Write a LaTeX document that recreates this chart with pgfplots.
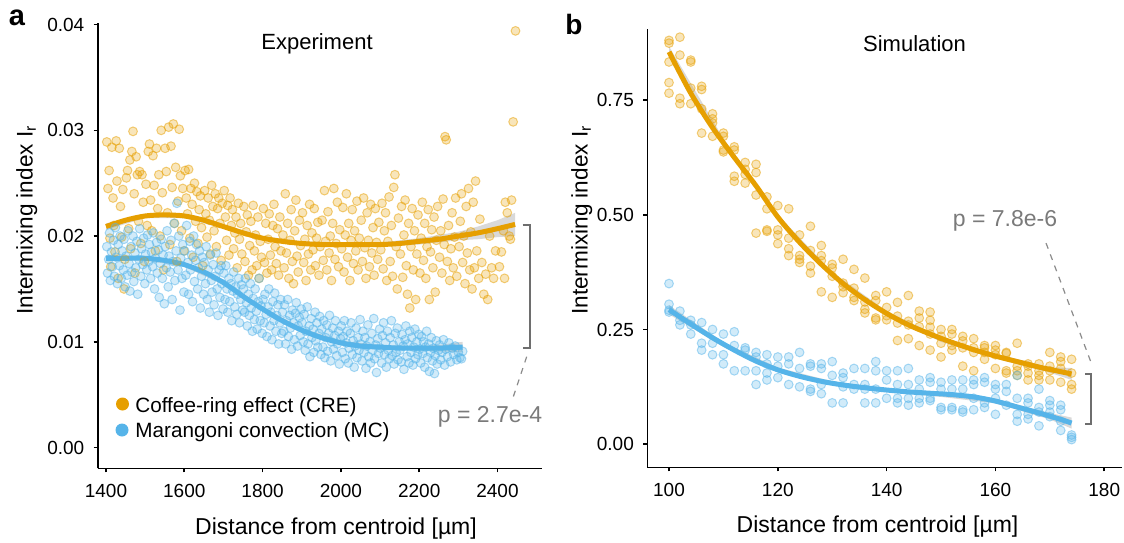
\documentclass[border=0pt]{standalone}
\usepackage{pgfplots}
\pgfplotsset{compat=1.18}
\usepackage{fontspec}
\setmainfont{Liberation Sans}
\definecolor{cre}{HTML}{E69F00}
\definecolor{mc}{HTML}{56B4E9}
\definecolor{pgray}{HTML}{7A7A7A}
\definecolor{bgray}{HTML}{6E6E6E}
\pgfplotsset{
  panel/.style={scale only axis, axis lines=left, scaled ticks=false,
    axis line style={-, line width=0.8pt, black},
    tick align=outside, major tick length=2pt,
    tick style={line width=0.8pt, black},
    tick label style={font=\fontsize{9.5}{11}\selectfont},
    xticklabel style={yshift=-2.5pt}, yticklabel style={xshift=-1.2pt}},
  ptO/.style={only marks, mark=*, mark size=2.2pt,
    mark options={draw=cre, fill=cre, draw opacity=0.5, fill opacity=0.27, line width=0.5pt}},
  ptB/.style={only marks, mark=*, mark size=2.2pt,
    mark options={draw=mc, fill=mc, draw opacity=0.5, fill opacity=0.27, line width=0.5pt}},
  band/.style={draw=none, fill=gray!55, fill opacity=0.55},
  fitO/.style={cre, line width=2.5pt, smooth, no marks},
  fitB/.style={mc, line width=2.5pt, smooth, no marks},
}
\begin{document}
\begin{tikzpicture}
\path[use as bounding box] (0,0) rectangle (562pt,271pt);
% ---------------- panel a ----------------
\begin{axis}[panel, at={(48.85pt,36.8pt)}, anchor=south west,
  width=222.15pt, height=222.45pt,
  xmin=1378.8, xmax=2513.7, ymin=-0.00197, ymax=0.0401,
  xtick={1400,1600,1800,2000,2200,2400},
  xticklabels={1400,1600,1800,2000,2200,2400},
  ytick={0,0.01,0.02,0.03,0.04},
  yticklabels={0.00,0.01,0.02,0.03,0.04}]
\addplot[ptO] coordinates {
(1402,0.0289)(1405,0.0245)(1408,0.0262)(1410,0.0198)(1412,0.0171)(1415,0.0284)(1418,0.0236)(1420,0.0210)(1423,0.0185)(1426,0.0290)(1428,0.0252)(1431,0.0160)(1434,0.0283)(1437,0.0228)(1440,0.0199)(1443,0.0244)(1446,0.0150)(1448,0.0178)
(1452,0.0255)(1455,0.0262)(1458,0.0207)(1461,0.0272)(1463,0.0188)(1466,0.0280)(1469,0.0299)(1472,0.0240)(1474,0.0165)(1477,0.0275)(1480,0.0258)(1483,0.0214)(1486,0.0261)(1489,0.0193)(1492,0.0258)(1495,0.0232)(1498,0.0176)
(1502,0.0249)(1505,0.0210)(1508,0.0280)(1511,0.0287)(1514,0.0234)(1517,0.0205)(1520,0.0276)(1523,0.0248)(1526,0.0186)(1529,0.0283)(1532,0.0226)(1535,0.0258)(1538,0.0200)(1541,0.0300)(1544,0.0241)(1547,0.0168)
(1551,0.0283)(1554,0.0261)(1557,0.0222)(1560,0.0303)(1563,0.0192)(1566,0.0285)(1569,0.0246)(1572,0.0306)(1575,0.0212)(1578,0.0265)(1581,0.0176)(1584,0.0233)(1587,0.0301)(1590,0.0257)(1593,0.0205)(1596,0.0245)(1599,0.0186)
(1602,0.0262)(1605,0.0236)(1608,0.0221)(1611,0.0263)(1614,0.0198)(1617,0.0245)(1620,0.0230)(1623,0.0180)(1626,0.0250)(1629,0.0214)(1632,0.0242)(1635,0.0193)(1638,0.0225)(1641,0.0238)(1644,0.0208)(1647,0.0172)
(1652,0.0243)(1655,0.0221)(1658,0.0199)(1661,0.0236)(1664,0.0215)(1667,0.0183)(1670,0.0248)(1673,0.0228)(1676,0.0205)(1679,0.0240)(1682,0.0190)(1685,0.0226)(1688,0.0236)(1691,0.0212)(1694,0.0177)(1697,0.0231)
(1702,0.0243)(1705,0.0218)(1708,0.0196)(1711,0.0229)(1714,0.0182)(1717,0.0236)(1720,0.0210)(1723,0.0225)(1726,0.0188)(1729,0.0203)(1732,0.0218)(1735,0.0170)(1738,0.0231)(1741,0.0197)(1744,0.0212)(1747,0.0183)
(1752,0.0228)(1755,0.0176)(1758,0.0204)(1761,0.0220)(1764,0.0163)(1767,0.0191)(1770,0.0214)(1773,0.0168)(1776,0.0229)(1779,0.0186)(1782,0.0201)(1785,0.0172)(1788,0.0218)(1791,0.0160)(1794,0.0195)(1797,0.0180)
(1802,0.0226)(1805,0.0175)(1808,0.0212)(1811,0.0165)(1814,0.0197)(1817,0.0221)(1820,0.0182)(1823,0.0168)(1826,0.0210)(1829,0.0230)(1832,0.0190)(1835,0.0174)(1838,0.0207)(1841,0.0163)(1844,0.0218)(1847,0.0186)
(1852,0.0201)(1855,0.0170)(1858,0.0240)(1861,0.0184)(1864,0.0212)(1867,0.0160)(1870,0.0196)(1873,0.0225)(1876,0.0176)(1879,0.0155)(1882,0.0205)(1885,0.0234)(1888,0.0181)(1891,0.0166)(1894,0.0215)(1897,0.0191)
(1902,0.0222)(1905,0.0175)(1908,0.0197)(1911,0.0158)(1914,0.0210)(1917,0.0183)(1920,0.0230)(1923,0.0168)(1926,0.0203)(1929,0.0187)(1932,0.0226)(1935,0.0172)(1938,0.0198)(1941,0.0213)(1944,0.0163)(1947,0.0190)
(1952,0.0215)(1955,0.0177)(1958,0.0243)(1961,0.0195)(1964,0.0168)(1967,0.0223)(1970,0.0184)(1973,0.0200)(1976,0.0158)(1979,0.0212)(1982,0.0245)(1985,0.0178)(1988,0.0193)(1991,0.0232)(1994,0.0171)(1997,0.0206)
(2002,0.0188)(2005,0.0227)(2008,0.0166)(2011,0.0201)(2014,0.0240)(2017,0.0180)(2020,0.0212)(2023,0.0158)(2026,0.0196)(2029,0.0225)(2032,0.0174)(2035,0.0205)(2038,0.0186)(2041,0.0233)(2044,0.0168)(2047,0.0198)
(2052,0.0215)(2055,0.0176)(2058,0.0236)(2061,0.0189)(2064,0.0160)(2067,0.0222)(2070,0.0196)(2073,0.0171)(2076,0.0230)(2079,0.0184)(2082,0.0208)(2085,0.0163)(2088,0.0226)(2091,0.0194)(2094,0.0178)(2097,0.0213)
(2102,0.0187)(2105,0.0231)(2108,0.0169)(2111,0.0205)(2114,0.0222)(2117,0.0158)(2120,0.0195)(2123,0.0237)(2126,0.0176)(2129,0.0210)(2132,0.0162)(2135,0.0246)(2138,0.0258)(2141,0.0190)(2144,0.0150)(2147,0.0217)
(2152,0.0183)(2155,0.0228)(2158,0.0161)(2161,0.0201)(2164,0.0234)(2167,0.0172)(2170,0.0145)(2173,0.0212)(2176,0.0132)(2179,0.0190)(2182,0.0226)(2185,0.0168)(2188,0.0205)(2191,0.0140)(2194,0.0183)(2197,0.0220)
(2202,0.0165)(2205,0.0198)(2208,0.0232)(2211,0.0177)(2214,0.0212)(2217,0.0160)(2220,0.0190)(2223,0.0225)(2226,0.0140)(2229,0.0185)(2232,0.0206)(2235,0.0170)(2238,0.0218)(2241,0.0147)(2244,0.0196)(2247,0.0228)
(2252,0.0180)(2255,0.0205)(2258,0.0165)(2261,0.0235)(2264,0.0192)(2266,0.0294)(2269,0.0291)(2272,0.0176)(2275,0.0210)(2278,0.0158)(2281,0.0188)(2284,0.0222)(2287,0.0170)(2290,0.0199)(2293,0.0236)(2296,0.0162)
(2302,0.0190)(2305,0.0214)(2308,0.0240)(2311,0.0175)(2314,0.0200)(2317,0.0155)(2320,0.0228)(2323,0.0184)(2326,0.0245)(2329,0.0168)(2332,0.0204)(2335,0.0150)(2338,0.0232)(2341,0.0170)(2344,0.0252)(2347,0.0186)
(2352,0.0160)(2355,0.0216)(2360,0.0175)(2365,0.0145)(2370,0.0164)(2375,0.0140)(2380,0.0200)(2385,0.0170)(2390,0.0160)(2395,0.0186)
(2405,0.0171)(2410,0.0185)(2415,0.0205)(2420,0.0232)(2425,0.0222)(2430,0.0200)(2436,0.0234)(2440,0.0308)(2446,0.0394)(2433,0.0197)(2418,0.0160)
};
\addplot[ptB] coordinates {
(1402,0.0190)(1404,0.0165)(1407,0.0178)(1409,0.0203)(1411,0.0158)(1414,0.0185)(1416,0.0171)(1419,0.0196)(1421,0.0162)(1424,0.0208)(1426,0.0180)(1429,0.0155)(1431,0.0192)(1434,0.0172)(1436,0.0200)(1439,0.0160)(1441,0.0186)(1444,0.0168)(1446,0.0197)(1449,0.0152)
(1451,0.0181)(1454,0.0163)(1456,0.0205)(1459,0.0174)(1461,0.0148)(1464,0.0190)(1466,0.0166)(1469,0.0200)(1471,0.0157)(1474,0.0184)(1476,0.0170)(1479,0.0195)(1481,0.0145)(1484,0.0178)(1486,0.0207)(1489,0.0162)(1491,0.0188)(1494,0.0173)(1496,0.0198)(1499,0.0155)
(1501,0.0183)(1504,0.0168)(1506,0.0201)(1509,0.0176)(1511,0.0192)(1514,0.0160)(1516,0.0185)(1519,0.0171)(1521,0.0203)(1524,0.0150)(1526,0.0179)(1529,0.0194)(1531,0.0165)(1534,0.0187)(1536,0.0142)(1539,0.0174)(1541,0.0197)(1544,0.0160)(1546,0.0182)(1549,0.0136)
(1551,0.0190)(1554,0.0170)(1556,0.0205)(1559,0.0152)(1561,0.0181)(1564,0.0166)(1566,0.0196)(1569,0.0140)(1571,0.0176)(1574,0.0212)(1576,0.0158)(1579,0.0186)(1581,0.0231)(1584,0.0168)(1586,0.0200)(1589,0.0130)(1591,0.0179)(1594,0.0160)(1596,0.0192)(1599,0.0147)
(1601,0.0186)(1604,0.0163)(1606,0.0210)(1609,0.0175)(1611,0.0145)(1614,0.0195)(1616,0.0168)(1619,0.0182)(1621,0.0138)(1624,0.0200)(1626,0.0157)(1629,0.0177)(1631,0.0192)(1634,0.0150)(1636,0.0170)(1639,0.0186)(1641,0.0132)(1644,0.0162)(1646,0.0180)(1649,0.0145)
(1651,0.0175)(1654,0.0155)(1656,0.0190)(1659,0.0140)(1661,0.0168)(1664,0.0128)(1666,0.0182)(1669,0.0158)(1671,0.0147)(1674,0.0173)(1676,0.0135)(1679,0.0162)(1681,0.0184)(1684,0.0150)(1686,0.0125)(1689,0.0168)(1691,0.0142)(1694,0.0172)(1696,0.0155)(1699,0.0131)
(1701,0.0165)(1704,0.0140)(1706,0.0172)(1709,0.0150)(1711,0.0128)(1714,0.0160)(1716,0.0138)(1719,0.0155)(1721,0.0120)(1724,0.0148)(1726,0.0166)(1729,0.0133)(1731,0.0152)(1734,0.0126)(1736,0.0145)(1739,0.0160)(1741,0.0118)(1744,0.0140)(1746,0.0154)(1749,0.0130)
(1751,0.0150)(1754,0.0128)(1756,0.0160)(1759,0.0137)(1761,0.0115)(1764,0.0145)(1766,0.0125)(1769,0.0155)(1771,0.0132)(1774,0.0110)(1776,0.0141)(1779,0.0121)(1781,0.0150)(1784,0.0129)(1786,0.0112)(1789,0.0138)(1791,0.0160)(1794,0.0120)(1796,0.0134)(1799,0.0108)
(1801,0.0140)(1804,0.0118)(1806,0.0145)(1809,0.0126)(1811,0.0105)(1814,0.0133)(1816,0.0150)(1819,0.0115)(1821,0.0128)(1824,0.0102)(1826,0.0138)(1829,0.0120)(1831,0.0146)(1834,0.0110)(1836,0.0125)(1839,0.0135)(1841,0.0098)(1844,0.0118)(1846,0.0140)(1849,0.0108)
(1851,0.0128)(1854,0.0110)(1856,0.0135)(1859,0.0098)(1861,0.0120)(1864,0.0140)(1866,0.0105)(1869,0.0125)(1871,0.0113)(1874,0.0093)(1876,0.0130)(1879,0.0118)(1881,0.0102)(1884,0.0127)(1886,0.0137)(1889,0.0096)(1891,0.0115)(1894,0.0123)(1896,0.0106)(1899,0.0131)
(1901,0.0118)(1904,0.0100)(1906,0.0126)(1909,0.0092)(1911,0.0110)(1914,0.0133)(1916,0.0098)(1919,0.0115)(1921,0.0086)(1924,0.0122)(1926,0.0104)(1929,0.0112)(1931,0.0090)(1934,0.0128)(1936,0.0101)(1939,0.0118)(1941,0.0095)(1944,0.0108)(1946,0.0124)(1949,0.0088)
(1951,0.0112)(1954,0.0095)(1956,0.0120)(1959,0.0085)(1961,0.0104)(1964,0.0116)(1966,0.0091)(1969,0.0108)(1971,0.0125)(1974,0.0082)(1976,0.0100)(1979,0.0113)(1981,0.0093)(1984,0.0106)(1986,0.0120)(1989,0.0087)(1991,0.0098)(1994,0.0110)(1996,0.0079)(1999,0.0103)
(2001,0.0115)(2004,0.0090)(2006,0.0105)(2009,0.0120)(2011,0.0084)(2014,0.0099)(2016,0.0110)(2019,0.0080)(2021,0.0094)(2024,0.0108)(2026,0.0118)(2029,0.0088)(2031,0.0101)(2034,0.0076)(2036,0.0096)(2039,0.0113)(2041,0.0085)(2044,0.0104)(2046,0.0092)(2049,0.0121)
(2051,0.0098)(2054,0.0082)(2056,0.0110)(2059,0.0090)(2061,0.0104)(2064,0.0075)(2066,0.0096)(2069,0.0116)(2071,0.0086)(2074,0.0100)(2076,0.0080)(2079,0.0108)(2081,0.0092)(2084,0.0122)(2086,0.0084)(2089,0.0097)(2091,0.0071)(2094,0.0103)(2096,0.0089)(2099,0.0112)
(2101,0.0094)(2104,0.0080)(2106,0.0106)(2109,0.0118)(2111,0.0088)(2114,0.0099)(2116,0.0076)(2119,0.0110)(2121,0.0092)(2124,0.0084)(2126,0.0104)(2129,0.0120)(2131,0.0087)(2134,0.0097)(2136,0.0079)(2139,0.0108)(2141,0.0090)(2144,0.0113)(2146,0.0083)(2149,0.0100)
(2151,0.0092)(2154,0.0081)(2156,0.0107)(2159,0.0096)(2161,0.0074)(2164,0.0102)(2166,0.0115)(2169,0.0086)(2171,0.0098)(2174,0.0080)(2176,0.0110)(2179,0.0090)(2181,0.0104)(2184,0.0078)(2186,0.0095)(2189,0.0112)(2191,0.0084)(2194,0.0100)(2196,0.0088)(2199,0.0107)
(2201,0.0093)(2204,0.0080)(2206,0.0105)(2209,0.0089)(2211,0.0100)(2214,0.0076)(2216,0.0095)(2219,0.0110)(2221,0.0085)(2224,0.0098)(2226,0.0072)(2229,0.0090)(2231,0.0104)(2234,0.0082)(2236,0.0094)(2239,0.0070)(2241,0.0087)(2244,0.0101)(2246,0.0079)(2249,0.0092)
(2252,0.0097)(2255,0.0083)(2258,0.0090)(2262,0.0102)(2265,0.0078)(2268,0.0093)(2272,0.0086)(2276,0.0099)(2280,0.0081)(2284,0.0094)(2288,0.0088)(2292,0.0096)(2296,0.0083)(2300,0.0090)(2304,0.0085)(2308,0.0084)(2311,0.0091)
};
% confidence bands
\addplot[band] coordinates {(1400,0.0212)(1500,0.0221)(1600,0.0221)(1700,0.0211)(1800,0.0200)(1900,0.0195)(2000,0.0194)(2100,0.0194)(2200,0.0198)(2300,0.0204)(2350,0.0209)(2400,0.0215)(2445,0.0222)
 (2445,0.0200)(2400,0.0199)(2350,0.0197)(2300,0.0196)(2200,0.0192)(2100,0.0190)(2000,0.0190)(1900,0.0191)(1800,0.0196)(1700,0.0207)(1600,0.0217)(1500,0.0217)(1400,0.0206)} -- cycle;
\addplot[band] coordinates {(1400,0.0182)(1500,0.0181)(1600,0.0175)(1700,0.0158)(1800,0.0133)(1900,0.0113)(2000,0.0101)(2100,0.0097)(2200,0.0096)(2250,0.0097)(2311,0.0100)
 (2311,0.0090)(2250,0.0091)(2200,0.0092)(2100,0.0093)(2000,0.0097)(1900,0.0109)(1800,0.0129)(1700,0.0154)(1600,0.0171)(1500,0.0177)(1400,0.0176)} -- cycle;
\addplot[fitO] coordinates {(1400,0.0209)(1450,0.0215)(1500,0.0219)(1550,0.0220)(1600,0.0219)(1650,0.0215)(1700,0.0209)(1750,0.0203)(1800,0.0198)(1850,0.0195)(1900,0.0193)(1950,0.0192)(2000,0.0192)(2100,0.0192)(2150,0.0193)(2200,0.0195)(2250,0.0197)(2300,0.0200)(2350,0.0203)(2400,0.0207)(2445,0.0211)};
\addplot[fitB] coordinates {(1400,0.0179)(1450,0.0179)(1500,0.0179)(1550,0.0177)(1600,0.0173)(1650,0.0166)(1700,0.0156)(1750,0.0143)(1800,0.0131)(1850,0.0120)(1900,0.0111)(1950,0.0104)(2000,0.0099)(2050,0.0096)(2100,0.0095)(2150,0.0094)(2200,0.0094)(2250,0.0094)(2311,0.0095)};
\end{axis}
% ---------------- panel b ----------------
\begin{axis}[panel, at={(323.65pt,37.35pt)}, anchor=south west,
  width=237.35pt, height=218.95pt,
  xmin=96.01, xmax=183.27, ymin=-0.0504, ymax=0.904,
  xtick={100,120,140,160,180}, xticklabels={100,120,140,160,180},
  ytick={0,0.25,0.5,0.75}, yticklabels={0.00,0.25,0.50,0.75}]
\addplot[ptO] coordinates {
(100,0.874)(100,0.880)(100,0.833)(100,0.788)(100,0.765)
(102,0.887)(102,0.848)(102,0.754)(102,0.742)
(104,0.837)(104,0.833)(104,0.776)(104,0.742)
(106,0.780)(106,0.773)(106,0.731)(106,0.678)
(108,0.720)(108,0.709)(108,0.700)(108,0.671)
(110,0.678)(110,0.671)(110,0.641)(110,0.637)
(112,0.648)(112,0.641)(112,0.584)(112,0.573)
(114,0.614)(114,0.599)(114,0.588)(114,0.569)
(116,0.610)(116,0.592)(116,0.543)(116,0.460)
(118,0.539)(118,0.513)(118,0.467)(118,0.464)
(120,0.520)(120,0.467)(120,0.456)(120,0.437)
(122,0.513)(122,0.449)(122,0.426)(122,0.411)
(124,0.456)(124,0.411)(124,0.403)(124,0.396)
(126,0.475)(126,0.422)(126,0.388)(126,0.373)
(128,0.433)(128,0.411)(128,0.400)(128,0.332)
(130,0.392)(130,0.384)(130,0.366)(130,0.320)
(132,0.403)(132,0.351)(132,0.343)(132,0.330)
(134,0.381)(134,0.340)(134,0.320)(134,0.313)
(136,0.362)(136,0.310)(136,0.294)(136,0.286)
(138,0.324)(138,0.313)(138,0.275)(138,0.271)
(140,0.332)(140,0.298)(140,0.280)(140,0.271)
(142,0.309)(142,0.279)(142,0.264)(142,0.226)
(144,0.324)(144,0.268)(144,0.260)(144,0.230)
(146,0.290)(146,0.275)(146,0.256)(146,0.215)
(148,0.288)(148,0.270)(148,0.255)(148,0.240)(148,0.205)
(150,0.250)(150,0.235)(150,0.220)(150,0.190)
(152,0.250)(152,0.240)(152,0.215)(152,0.205)
(154,0.235)(154,0.225)(154,0.210)(154,0.170)
(156,0.230)(156,0.210)(156,0.200)(156,0.160)
(158,0.215)(158,0.210)(158,0.200)(158,0.185)
(160,0.215)(160,0.205)(160,0.195)(160,0.165)
(162,0.200)(162,0.198)(162,0.160)(162,0.155)
(164,0.220)(164,0.170)(164,0.160)(164,0.150)
(166,0.175)(166,0.170)(166,0.155)(166,0.140)
(168,0.175)(168,0.160)(168,0.150)(168,0.140)
(170,0.200)(170,0.170)(170,0.160)(170,0.140)
(172,0.190)(172,0.180)(172,0.165)(172,0.135)
(174,0.185)(174,0.155)(174,0.130)(174,0.120)
};
\addplot[ptB] coordinates {
(100,0.350)(100,0.305)(100,0.292)(100,0.288)
(102,0.290)(102,0.270)(102,0.260)
(104,0.270)(104,0.260)(104,0.240)
(106,0.265)(106,0.220)(106,0.205)
(108,0.250)(108,0.220)(108,0.195)
(110,0.240)(110,0.195)(110,0.175)
(112,0.245)(112,0.215)(112,0.160)
(114,0.210)(114,0.205)(114,0.160)
(116,0.200)(116,0.190)(116,0.160)(116,0.130)
(118,0.195)(118,0.175)(118,0.155)(118,0.140)
(120,0.190)(120,0.170)(120,0.145)
(122,0.190)(122,0.175)(122,0.130)
(124,0.200)(124,0.165)(124,0.125)
(126,0.175)(126,0.170)(126,0.120)(126,0.115)
(128,0.175)(128,0.165)(128,0.130)(128,0.110)
(130,0.180)(130,0.150)(130,0.090)
(132,0.155)(132,0.145)(132,0.125)(132,0.090)
(134,0.165)(134,0.130)(134,0.120)
(136,0.165)(136,0.130)(136,0.120)(136,0.090)
(138,0.180)(138,0.160)(138,0.120)(138,0.090)
(140,0.160)(140,0.140)(140,0.100)
(142,0.160)(142,0.130)(142,0.100)(142,0.090)
(144,0.165)(144,0.130)(144,0.100)(144,0.085)
(146,0.140)(146,0.120)(146,0.100)(146,0.090)
(148,0.145)(148,0.135)(148,0.100)(148,0.095)
(150,0.135)(150,0.120)(150,0.080)(150,0.075)
(152,0.140)(152,0.120)(152,0.080)(152,0.075)
(154,0.140)(154,0.120)(154,0.075)(154,0.070)
(156,0.140)(156,0.130)(156,0.100)(156,0.075)
(158,0.145)(158,0.135)(158,0.090)(158,0.080)
(160,0.130)(160,0.120)(160,0.100)(160,0.065)
(162,0.130)(162,0.115)(162,0.085)
(164,0.150)(164,0.100)(164,0.065)(164,0.050)
(166,0.100)(166,0.090)(166,0.065)(166,0.055)
(168,0.120)(168,0.080)(168,0.070)(168,0.040)
(170,0.095)(170,0.085)(170,0.070)(170,0.060)
(172,0.085)(172,0.075)(172,0.050)(172,0.030)
(174,0.020)(174,0.015)(174,0.010)
};
\addplot[band] coordinates {(100,0.867)(110,0.666)(120,0.500)(130,0.375)(140,0.290)(150,0.233)(160,0.197)(170,0.168)(174,0.166)
 (174,0.140)(170,0.156)(160,0.187)(150,0.223)(140,0.280)(130,0.365)(120,0.490)(110,0.656)(100,0.843)} -- cycle;
\addplot[band] coordinates {(100,0.303)(110,0.222)(120,0.167)(130,0.137)(140,0.122)(150,0.113)(160,0.099)(170,0.068)(174,0.058)
 (174,0.034)(170,0.054)(160,0.089)(150,0.103)(140,0.114)(130,0.129)(120,0.157)(110,0.212)(100,0.283)} -- cycle;
\addplot[fitO] coordinates {(100,0.855)(104,0.765)(108,0.690)(112,0.625)(116,0.563)(120,0.495)(124,0.440)(128,0.392)(132,0.350)(136,0.315)(140,0.285)(144,0.260)(148,0.240)(152,0.222)(156,0.206)(160,0.192)(164,0.180)(168,0.168)(172,0.158)(174,0.153)};
\addplot[fitB] coordinates {(100,0.293)(104,0.262)(108,0.232)(112,0.205)(116,0.181)(120,0.162)(124,0.148)(128,0.137)(132,0.129)(136,0.123)(140,0.118)(144,0.114)(148,0.111)(152,0.108)(156,0.103)(160,0.094)(164,0.081)(168,0.068)(172,0.054)(174,0.046)};
\end{axis}
% ---------------- annotations (pixel coordinates, origin top-left) ----------------
\begin{scope}[x=0.5pt, y=-0.5pt, yshift=271pt]
\node[font=\fontsize{14.5}{16}\selectfont\bfseries, anchor=base west, inner sep=0] at (8.5,26) {a};
\node[font=\fontsize{14}{16}\selectfont\bfseries, anchor=base west, inner sep=0] at (565,34.6) {b};
\node[font=\fontsize{11}{13}\selectfont] at (317,44) {Experiment};
\node[font=\fontsize{11}{13}\selectfont] at (914.5,44) {Simulation};
\node[font=\fontsize{11.3}{13}\selectfont, rotate=90] at (26.7,220) {Intermixing index I\textsubscript{r}};
\node[font=\fontsize{11.3}{13}\selectfont, rotate=90] at (581.7,220) {Intermixing index I\textsubscript{r}};
\node[font=\fontsize{11.5}{13}\selectfont] at (336,529) {Distance from centroid [µm]};
\node[font=\fontsize{11.5}{13}\selectfont] at (877.5,527) {Distance from centroid [µm]};
% legend
\fill[cre] (122.5,404) circle (6.5);
\fill[mc] (122,430) circle (6.5);
\node[font=\fontsize{10.35}{12}\selectfont, anchor=west, inner sep=0] at (135,407) {Coffee-ring effect (CRE)};
\node[font=\fontsize{10.35}{12}\selectfont, anchor=west, inner sep=0] at (135,432) {Marangoni convection (MC)};
% brackets and p-values
\draw[bgray, line width=1pt] (522.7,225) -- (530,225) -- (530,347.7) -- (522.7,347.7);
\draw[bgray!80, line width=0.6pt, dash pattern=on 3pt off 3pt] (526.7,356.7) -- (513.3,396.7);
\node[pgray, font=\fontsize{11.5}{13}\selectfont] at (490,416.7) {p = 2.7e-4};
\draw[bgray, line width=1pt] (1085,374.3) -- (1091,374.3) -- (1091,424.3) -- (1085,424.3);
\draw[bgray!80, line width=0.6pt, dash pattern=on 3pt off 3pt] (1090.5,361) -- (1046,243);
\node[pgray, font=\fontsize{11.5}{13}\selectfont] at (1005,221) {p = 7.8e-6};
\end{scope}
\end{tikzpicture}
\end{document}
